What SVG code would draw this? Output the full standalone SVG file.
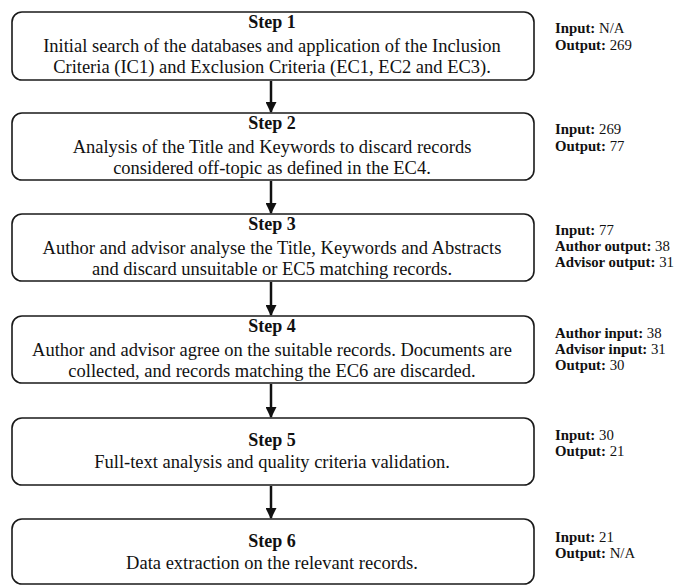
<svg xmlns="http://www.w3.org/2000/svg" width="674" height="586" viewBox="0 0 674 586">
  <style>
    .box { fill: #ffffff; stroke: #1a1a1a; stroke-width: 1.6; }
    .title { font-family: "Liberation Serif", "Times New Roman", serif; font-size: 18px; font-weight: bold; fill: #111; text-anchor: middle; }
    .body { font-family: "Liberation Serif", "Times New Roman", serif; font-size: 18.5px; fill: #111; text-anchor: middle; }
    .side { font-family: "Liberation Serif", "Times New Roman", serif; font-size: 14.8px; fill: #111; }
    .side tspan.k { font-weight: bold; }
    .conn { stroke: #111; stroke-width: 2.5; fill: none; marker-end: url(#arrow); }
  </style>
  <defs>
    <marker id="arrow" viewBox="0 0 10 10" refX="9" refY="5" markerWidth="4.4" markerHeight="4.4" orient="auto" markerUnits="strokeWidth">
      <path d="M0,0 L10,5 L0,10 z" fill="#111"/>
    </marker>
  </defs>
  <rect width="674" height="586" fill="#ffffff"/>

  <g id="connectors">
    <line class="conn" x1="271" y1="81" x2="271" y2="112"/>
    <line class="conn" x1="271" y1="181" x2="271" y2="213"/>
    <line class="conn" x1="271" y1="282" x2="271" y2="315"/>
    <line class="conn" x1="271" y1="384" x2="271" y2="417"/>
    <line class="conn" x1="271" y1="486" x2="271" y2="518"/>
  </g>

  <g id="step1">
    <rect class="box" x="12" y="12" width="522" height="68" rx="10"/>
    <text class="title" x="272" y="28">Step 1</text>
    <text class="body" x="272" y="52">Initial search of the databases and application of the Inclusion</text>
    <text class="body" x="272" y="73">Criteria (IC1) and Exclusion Criteria (EC1, EC2 and EC3).</text>
    <text class="side" x="555" y="33"><tspan class="k">Input:</tspan> N/A</text>
    <text class="side" x="555" y="50"><tspan class="k">Output:</tspan> 269</text>
  </g>

  <g id="step2">
    <rect class="box" x="12" y="113" width="522" height="67" rx="10"/>
    <text class="title" x="272" y="129">Step 2</text>
    <text class="body" x="272" y="153">Analysis of the Title and Keywords to discard records</text>
    <text class="body" x="272" y="174">considered off-topic as defined in the EC4.</text>
    <text class="side" x="555" y="134"><tspan class="k">Input:</tspan> 269</text>
    <text class="side" x="555" y="151"><tspan class="k">Output:</tspan> 77</text>
  </g>

  <g id="step3">
    <rect class="box" x="12" y="214" width="522" height="67" rx="10"/>
    <text class="title" x="272" y="230">Step 3</text>
    <text class="body" x="272" y="254">Author and advisor analyse the Title, Keywords and Abstracts</text>
    <text class="body" x="272" y="275">and discard unsuitable or EC5 matching records.</text>
    <text class="side" x="555" y="235"><tspan class="k">Input:</tspan> 77</text>
    <text class="side" x="555" y="251"><tspan class="k">Author output:</tspan> 38</text>
    <text class="side" x="555" y="267"><tspan class="k">Advisor output:</tspan> 31</text>
  </g>

  <g id="step4">
    <rect class="box" x="12" y="316" width="522" height="67" rx="10"/>
    <text class="title" x="272" y="332">Step 4</text>
    <text class="body" x="272" y="356">Author and advisor agree on the suitable records. Documents are</text>
    <text class="body" x="272" y="377">collected, and records matching the EC6 are discarded.</text>
    <text class="side" x="555" y="338"><tspan class="k">Author input:</tspan> 38</text>
    <text class="side" x="555" y="354"><tspan class="k">Advisor input:</tspan> 31</text>
    <text class="side" x="555" y="370"><tspan class="k">Output:</tspan> 30</text>
  </g>

  <g id="step5">
    <rect class="box" x="12" y="418" width="522" height="67" rx="10"/>
    <text class="title" x="272" y="446">Step 5</text>
    <text class="body" x="272" y="468">Full-text analysis and quality criteria validation.</text>
    <text class="side" x="555" y="440"><tspan class="k">Input:</tspan> 30</text>
    <text class="side" x="555" y="456"><tspan class="k">Output:</tspan> 21</text>
  </g>

  <g id="step6">
    <rect class="box" x="12" y="519" width="522" height="65" rx="10"/>
    <text class="title" x="272" y="547">Step 6</text>
    <text class="body" x="272" y="569">Data extraction on the relevant records.</text>
    <text class="side" x="555" y="542"><tspan class="k">Input:</tspan> 21</text>
    <text class="side" x="555" y="558"><tspan class="k">Output:</tspan> N/A</text>
  </g>
</svg>
